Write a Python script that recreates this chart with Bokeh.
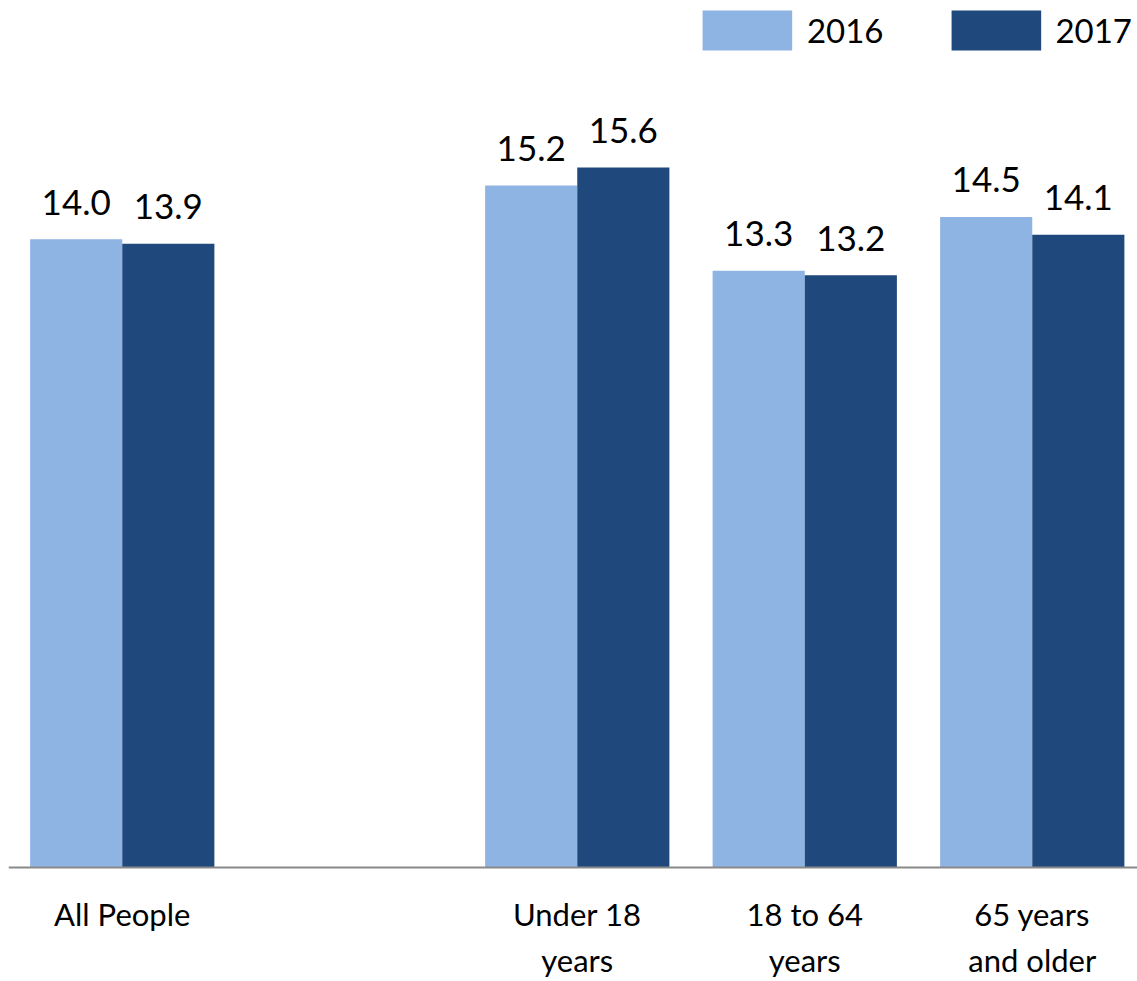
from bokeh.plotting import figure
from bokeh.models import ColumnDataSource, Range1d, Span, Legend, LegendItem
from bokeh.transform import dodge
from bokeh.core.properties import value
from bokeh.embed import file_html
from bokeh.resources import INLINE
import math

# ---- data ----
categories = ["All People", "", "Under 18\nyears", "18 to 64\nyears", "65 years\nand older"]
v2016 = [14.0, float("nan"), 15.2, 13.3, 14.5]
v2017 = [13.9, float("nan"), 15.6, 13.2, 14.1]
series_names = ["2016", "2017"]
colors = ["#8EB4E3", "#1F497D"]

# ---- layout ----
W, H = 1137, 981
LEFT = 8
px_per_cat = 227.5
px_per_unit = 44.87
base_from_top = 867  # px from top to zero line

xs = list(range(len(categories)))
valid = [i for i in xs if not math.isnan(v2016[i])]

src = ColumnDataSource(dict(
    x=[xs[i] for i in valid],
    a=[v2016[i] for i in valid],
    b=[v2017[i] for i in valid],
    la=[f"{v2016[i]:.1f}" for i in valid],
    lb=[f"{v2017[i]:.1f}" for i in valid],
))
cat_src = ColumnDataSource(dict(
    x=[xs[i] for i in valid],
    y=[0] * len(valid),
    t=[categories[i] for i in valid],
))

p = figure(width=W, height=H, output_backend="svg", toolbar_location=None,
           x_range=Range1d(-0.5, -0.5 + (W - LEFT) / px_per_cat),
           y_range=Range1d(-(H - base_from_top) / px_per_unit, base_from_top / px_per_unit),
           min_border=0, min_border_left=LEFT, outline_line_color=None)
p.axis.visible = False
p.grid.visible = False
p.background_fill_color = "white"
p.border_fill_color = "white"

bw = 0.405
r1 = p.vbar(x=dodge("x", -bw / 2, range=p.x_range), top="a", width=bw, bottom=0,
            source=src, fill_color=colors[0], line_color=None)
r2 = p.vbar(x=dodge("x", bw / 2, range=p.x_range), top="b", width=bw, bottom=0,
            source=src, fill_color=colors[1], line_color=None)

font = value("Lato")
p.text(x=dodge("x", -bw / 2, range=p.x_range), y="a", text="la", source=src,
       text_font=font, text_font_size="35px", text_align="center",
       text_baseline="alphabetic", y_offset=-37, text_color="black")
p.text(x=dodge("x", bw / 2, range=p.x_range), y="b", text="lb", source=src,
       text_font=font, text_font_size="35px", text_align="center",
       text_baseline="alphabetic", y_offset=-37, text_color="black")

p.text(x="x", y="y", text="t", source=cat_src, text_font=font,
       text_font_size="31px", text_align="center", text_baseline="top",
       y_offset=27, text_line_height=1.22, text_color="black")

p.add_layout(Span(location=0, dimension="width", line_color="#898989", line_width=2))

legend = Legend(items=[LegendItem(label=series_names[0], renderers=[r1]),
                       LegendItem(label=series_names[1], renderers=[r2])],
                orientation="horizontal", location="top_right",
                glyph_width=112, glyph_height=50, label_height=50,
                label_standoff=4, spacing=56, padding=0, margin=5,
                label_text_font="Lato", label_text_font_size="33px",
                label_text_color="black",
                background_fill_alpha=0, border_line_alpha=0)
p.add_layout(legend, "center")

open("out.html", "w").write(file_html(p, INLINE))
